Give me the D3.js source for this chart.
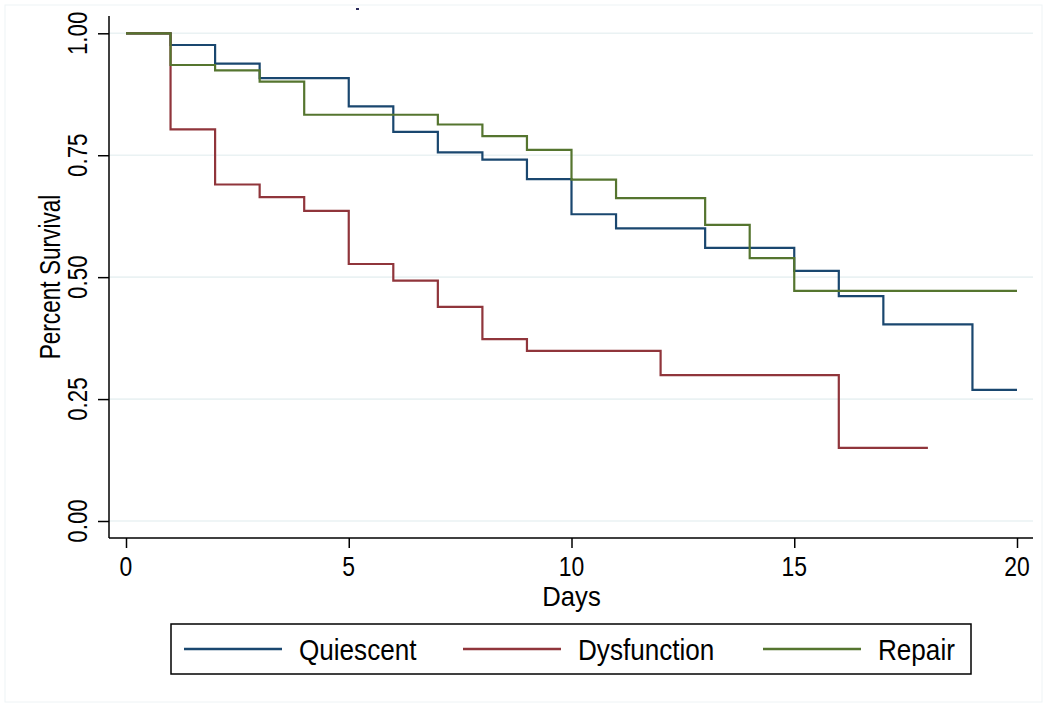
<!DOCTYPE html>
<html>
<head>
<meta charset="utf-8">
<script src="https://cdnjs.cloudflare.com/ajax/libs/d3/7.8.5/d3.min.js"></script>
<style>
  body { margin: 0; background: #fff; }
  text { font-family: "Liberation Sans", Arial, sans-serif; fill: #000; }
</style>
</head>
<body>
<script>
// Kaplan-Meier step values
var quiescentDays = [0, 1, 2, 3, 5, 6, 7, 8, 9, 10, 11, 13, 15, 16, 17, 19, 20];
var quiescentSurv = [1.0, 0.976, 0.938, 0.908, 0.850, 0.798, 0.756, 0.741, 0.701, 0.629, 0.600, 0.560, 0.513, 0.461, 0.403, 0.269, 0.269];

var dysfunctionDays = [0, 1, 2, 3, 4, 5, 6, 7, 8, 9, 12, 16, 18];
var dysfunctionSurv = [1.0, 0.803, 0.690, 0.664, 0.636, 0.527, 0.493, 0.439, 0.373, 0.349, 0.299, 0.150, 0.150];

var repairDays = [0, 1, 2, 3, 4, 7, 8, 9, 10, 11, 13, 14, 15, 20];
var repairSurv = [1.0, 0.935, 0.924, 0.901, 0.833, 0.813, 0.789, 0.761, 0.700, 0.662, 0.607, 0.539, 0.472, 0.472];

var seriesNames = ["Quiescent", "Dysfunction", "Repair"];
var seriesColors = ["#1a476f", "#90353b", "#55752f"];
var xTicks = [0, 5, 10, 15, 20];
var yTicks = [0, 0.25, 0.5, 0.75, 1];

var W = 1047, H = 707;
var plot = {left: 109, right: 1033, top: 16, bottom: 538};

var xScale = d3.scaleLinear().domain([0, 20]).range([126, 1017]);
var yScale = d3.scaleLinear().domain([0, 1]).range([521, 33.3]);

var svg = d3.select("body").append("svg")
    .attr("width", W)
    .attr("height", H);

// faint graph region frame
svg.append("rect")
    .attr("x", 5).attr("y", 5)
    .attr("width", W - 10).attr("height", H - 10)
    .attr("fill", "none")
    .attr("stroke", "#eef3f5")
    .attr("stroke-width", 1);

// condensed text helper (Stata's narrow look)
function label(x, y, str, size, sx, rot, anchor) {
  var g = svg.append("g")
      .attr("transform", "translate(" + x + "," + y + ")" + (rot ? " rotate(" + rot + ")" : "") + " scale(" + sx + ",1)");
  g.append("text")
      .attr("font-size", size)
      .style("text-anchor", anchor || "middle")
      .text(str);
  return g;
}

// grid lines
svg.append("g")
  .selectAll("line")
  .data(yTicks).enter()
  .append("line")
    .attr("x1", plot.left)
    .attr("x2", plot.right)
    .attr("y1", function(d) { return yScale(d); })
    .attr("y2", function(d) { return yScale(d); })
    .attr("stroke", "#eaf2f3")
    .attr("stroke-width", 1.6);

// y axis
svg.append("g")
    .attr("transform", "translate(" + plot.left + ",0)")
    .call(d3.axisLeft(yScale).tickValues(yTicks).tickSize(11).tickSizeOuter(0).tickFormat(""))
    .call(function(g) { g.select(".domain").remove(); })
    .selectAll("line").attr("stroke", "#000").attr("stroke-width", 1.5);

svg.append("line")
    .attr("x1", plot.left).attr("x2", plot.left)
    .attr("y1", plot.top).attr("y2", plot.bottom)
    .attr("stroke", "#000").attr("stroke-width", 1.5);

// x axis
svg.append("g")
    .attr("transform", "translate(0," + plot.bottom + ")")
    .call(d3.axisBottom(xScale).tickValues(xTicks).tickSize(10).tickSizeOuter(0).tickFormat(""))
    .call(function(g) { g.select(".domain").remove(); })
    .selectAll("line").attr("stroke", "#000").attr("stroke-width", 1.5);

svg.append("line")
    .attr("x1", plot.left).attr("x2", plot.right)
    .attr("y1", plot.bottom).attr("y2", plot.bottom)
    .attr("stroke", "#000").attr("stroke-width", 1.5);

// tick labels
yTicks.forEach(function(d) {
  label(87, yScale(d), d3.format(".2f")(d), 28, 0.8, -90);
});
xTicks.forEach(function(d) {
  label(xScale(d), 576, String(d), 27, 0.85);
});

// axis titles
label(60, (plot.top + plot.bottom) / 2, "Percent Survival", 29, 0.78, -90);
label((plot.left + plot.right) / 2 + 0.5, 606, "Days", 27, 0.95);

// tiny title mark at top
svg.append("rect")
    .attr("x", 356).attr("y", 8).attr("width", 3).attr("height", 2)
    .attr("fill", "#2a2a5a");

// survival curves
var series = [
  {days: quiescentDays, surv: quiescentSurv},
  {days: dysfunctionDays, surv: dysfunctionSurv},
  {days: repairDays, surv: repairSurv}
];

var line = d3.line()
    .x(function(d) { return xScale(d[0]); })
    .y(function(d) { return yScale(d[1]); })
    .curve(d3.curveStepAfter);

series.forEach(function(s, i) {
  var pts = s.days.map(function(t, j) { return [t, s.surv[j]]; });
  svg.append("path")
      .datum(pts)
      .attr("d", line)
      .attr("fill", "none")
      .attr("stroke", seriesColors[i])
      .attr("stroke-width", 2.2);
});

// legend
svg.append("rect")
    .attr("x", 171).attr("y", 624)
    .attr("width", 800).attr("height", 50)
    .attr("fill", "#fff")
    .attr("stroke", "#000")
    .attr("stroke-width", 1.5);

var legendX = [184, 463, 763];
seriesNames.forEach(function(name, i) {
  svg.append("line")
      .attr("x1", legendX[i]).attr("x2", legendX[i] + 98)
      .attr("y1", 649).attr("y2", 649)
      .attr("stroke", seriesColors[i])
      .attr("stroke-width", 2.4);
  label(legendX[i] + 115, 660, name, 30, 0.87, 0, "start");
});
</script>
</body>
</html>
